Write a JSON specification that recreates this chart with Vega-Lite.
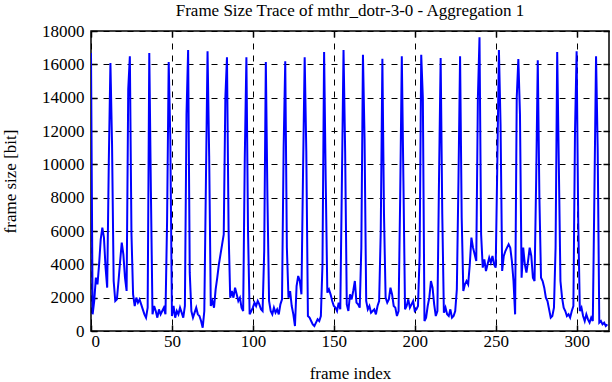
{
  "$schema": "https://vega.github.io/schema/vega-lite/v6.json",
  "width": 518,
  "height": 300,
  "autosize": {"type": "none"},
  "padding": {"left": 91, "top": 31, "right": 3, "bottom": 51},
  "background": "white",
  "config": {
    "font": "Liberation Serif",
    "view": {"stroke": "black", "strokeWidth": 1.5},
    "axis": {"labelFont": "Liberation Serif", "titleFont": "Liberation Serif", "labelFontSize": 17, "titleFontSize": 17, "labelColor": "black", "titleColor": "black", "titleFontWeight": "normal", "domain": false, "tickColor": "black", "tickWidth": 1.5, "tickSize": -6, "gridColor": "black", "gridDash": [6, 6], "gridWidth": 1, "gridOpacity": 1}
  },
  "title": {"text": "Frame Size Trace of mthr_dotr-3-0 - Aggregation 1", "font": "Liberation Serif", "fontSize": 17, "fontWeight": "normal", "color": "black", "offset": 2, "anchor": "middle"},
  "data": {"values": [
    {"f":0,"v":16680},{"f":1,"v":1000},{"f":2,"v":1800},{"f":3,"v":3200},{"f":4,"v":2800},{"f":5,"v":4000},{"f":6,"v":5500},{"f":7,"v":6200},{"f":8,"v":5600},{"f":9,"v":3800},
    {"f":10,"v":2600},{"f":11,"v":10200},{"f":12,"v":16080},{"f":13,"v":11200},{"f":14,"v":3000},{"f":15,"v":1800},{"f":16,"v":1900},{"f":17,"v":3000},{"f":18,"v":4200},{"f":19,"v":5300},
    {"f":20,"v":4600},{"f":21,"v":3200},{"f":22,"v":2400},{"f":23,"v":14500},{"f":24,"v":16480},{"f":25,"v":5800},{"f":26,"v":2200},{"f":27,"v":1500},{"f":28,"v":2000},{"f":29,"v":1700},
    {"f":30,"v":1900},{"f":31,"v":1600},{"f":32,"v":1300},{"f":33,"v":1000},{"f":34,"v":800},{"f":35,"v":1400},{"f":36,"v":16680},{"f":37,"v":8400},{"f":38,"v":1000},{"f":39,"v":1500},
    {"f":40,"v":1200},{"f":41,"v":800},{"f":42,"v":1300},{"f":43,"v":1000},{"f":44,"v":1200},{"f":45,"v":1400},{"f":46,"v":1000},{"f":47,"v":6600},{"f":48,"v":16140},{"f":49,"v":11500},
    {"f":50,"v":900},{"f":51,"v":1500},{"f":52,"v":800},{"f":53,"v":1200},{"f":54,"v":1000},{"f":55,"v":1400},{"f":56,"v":1100},{"f":57,"v":800},{"f":58,"v":1500},{"f":59,"v":13000},
    {"f":60,"v":16860},{"f":61,"v":3500},{"f":62,"v":1200},{"f":63,"v":800},{"f":64,"v":1100},{"f":65,"v":1400},{"f":66,"v":1000},{"f":67,"v":900},{"f":68,"v":600},{"f":69,"v":200},
    {"f":70,"v":1200},{"f":71,"v":9000},{"f":72,"v":16780},{"f":73,"v":10500},{"f":74,"v":1500},{"f":75,"v":1800},{"f":76,"v":1400},{"f":77,"v":2500},{"f":78,"v":3200},{"f":79,"v":4000},
    {"f":80,"v":4600},{"f":81,"v":5200},{"f":82,"v":5800},{"f":83,"v":14000},{"f":84,"v":16420},{"f":85,"v":6000},{"f":86,"v":2000},{"f":87,"v":2400},{"f":88,"v":2000},{"f":89,"v":2600},
    {"f":90,"v":2200},{"f":91,"v":1800},{"f":92,"v":2000},{"f":93,"v":1400},{"f":94,"v":1200},{"f":95,"v":10400},{"f":96,"v":16420},{"f":97,"v":6000},{"f":98,"v":1000},{"f":99,"v":1200},
    {"f":100,"v":1400},{"f":101,"v":1700},{"f":102,"v":1500},{"f":103,"v":1800},{"f":104,"v":1600},{"f":105,"v":1300},{"f":106,"v":1200},{"f":107,"v":4800},{"f":108,"v":16140},{"f":109,"v":8000},
    {"f":110,"v":1800},{"f":111,"v":1200},{"f":112,"v":1000},{"f":113,"v":1400},{"f":114,"v":1100},{"f":115,"v":1300},{"f":116,"v":1000},{"f":117,"v":1600},{"f":118,"v":1900},{"f":119,"v":11000},
    {"f":120,"v":16180},{"f":121,"v":5000},{"f":122,"v":2000},{"f":123,"v":2400},{"f":124,"v":1500},{"f":125,"v":1000},{"f":126,"v":300},{"f":127,"v":2700},{"f":128,"v":3300},{"f":129,"v":3000},
    {"f":130,"v":2200},{"f":131,"v":9600},{"f":132,"v":16420},{"f":133,"v":10800},{"f":134,"v":900},{"f":135,"v":800},{"f":136,"v":600},{"f":137,"v":400},{"f":138,"v":300},{"f":139,"v":500},
    {"f":140,"v":700},{"f":141,"v":600},{"f":142,"v":900},{"f":143,"v":4000},{"f":144,"v":16740},{"f":145,"v":9000},{"f":146,"v":2300},{"f":147,"v":2500},{"f":148,"v":2200},{"f":149,"v":1800},
    {"f":150,"v":1500},{"f":151,"v":1400},{"f":152,"v":1200},{"f":153,"v":1700},{"f":154,"v":1300},{"f":155,"v":9000},{"f":156,"v":16860},{"f":157,"v":10800},{"f":158,"v":1600},{"f":159,"v":1200},
    {"f":160,"v":2200},{"f":161,"v":1900},{"f":162,"v":2400},{"f":163,"v":3000},{"f":164,"v":1700},{"f":165,"v":1600},{"f":166,"v":1400},{"f":167,"v":5000},{"f":168,"v":16580},{"f":169,"v":11500},
    {"f":170,"v":1800},{"f":171,"v":1300},{"f":172,"v":1500},{"f":173,"v":1100},{"f":174,"v":1200},{"f":175,"v":1300},{"f":176,"v":1000},{"f":177,"v":1500},{"f":178,"v":1800},{"f":179,"v":6000},
    {"f":180,"v":16340},{"f":181,"v":7000},{"f":182,"v":2000},{"f":183,"v":1700},{"f":184,"v":1900},{"f":185,"v":2600},{"f":186,"v":2200},{"f":187,"v":1500},{"f":188,"v":1400},{"f":189,"v":900},
    {"f":190,"v":1200},{"f":191,"v":8000},{"f":192,"v":16480},{"f":193,"v":9000},{"f":194,"v":1300},{"f":195,"v":1500},{"f":196,"v":1900},{"f":197,"v":1400},{"f":198,"v":1600},{"f":199,"v":1800},
    {"f":200,"v":1200},{"f":201,"v":1300},{"f":202,"v":1500},{"f":203,"v":4500},{"f":204,"v":16580},{"f":205,"v":14000},{"f":206,"v":600},{"f":207,"v":800},{"f":208,"v":1500},{"f":209,"v":2000},
    {"f":210,"v":3000},{"f":211,"v":2600},{"f":212,"v":1600},{"f":213,"v":900},{"f":214,"v":1200},{"f":215,"v":9200},{"f":216,"v":16380},{"f":217,"v":7000},{"f":218,"v":1100},{"f":219,"v":1400},
    {"f":220,"v":1000},{"f":221,"v":900},{"f":222,"v":1300},{"f":223,"v":800},{"f":224,"v":900},{"f":225,"v":1200},{"f":226,"v":2500},{"f":227,"v":9000},{"f":228,"v":16480},{"f":229,"v":6800},
    {"f":230,"v":2400},{"f":231,"v":2800},{"f":232,"v":3000},{"f":233,"v":2800},{"f":234,"v":4000},{"f":235,"v":5600},{"f":236,"v":5000},{"f":237,"v":4600},{"f":238,"v":4200},{"f":239,"v":14000},
    {"f":240,"v":17620},{"f":241,"v":5800},{"f":242,"v":3800},{"f":243,"v":4300},{"f":244,"v":3600},{"f":245,"v":4000},{"f":246,"v":4400},{"f":247,"v":4100},{"f":248,"v":4500},{"f":249,"v":4000},
    {"f":250,"v":3800},{"f":251,"v":10000},{"f":252,"v":16860},{"f":253,"v":12400},{"f":254,"v":3600},{"f":255,"v":4500},{"f":256,"v":4800},{"f":257,"v":5000},{"f":258,"v":5200},{"f":259,"v":5000},
    {"f":260,"v":4200},{"f":261,"v":3000},{"f":262,"v":1000},{"f":263,"v":14000},{"f":264,"v":16320},{"f":265,"v":13000},{"f":266,"v":3200},{"f":267,"v":5000},{"f":268,"v":4000},{"f":269,"v":3500},
    {"f":270,"v":4200},{"f":271,"v":5000},{"f":272,"v":4500},{"f":273,"v":3200},{"f":274,"v":3000},{"f":275,"v":9000},{"f":276,"v":16240},{"f":277,"v":8000},{"f":278,"v":3200},{"f":279,"v":3000},
    {"f":280,"v":2600},{"f":281,"v":2000},{"f":282,"v":1800},{"f":283,"v":1300},{"f":284,"v":800},{"f":285,"v":900},{"f":286,"v":1400},{"f":287,"v":5000},{"f":288,"v":16740},{"f":289,"v":10000},
    {"f":290,"v":3000},{"f":291,"v":2000},{"f":292,"v":1400},{"f":293,"v":1200},{"f":294,"v":900},{"f":295,"v":1000},{"f":296,"v":800},{"f":297,"v":1200},{"f":298,"v":1500},{"f":299,"v":12000},
    {"f":300,"v":16780},{"f":301,"v":6500},{"f":302,"v":1200},{"f":303,"v":1400},{"f":304,"v":900},{"f":305,"v":600},{"f":306,"v":1000},{"f":307,"v":700},{"f":308,"v":500},{"f":309,"v":800},
    {"f":310,"v":600},{"f":311,"v":8400},{"f":312,"v":16480},{"f":313,"v":11000},{"f":314,"v":500},{"f":315,"v":600},{"f":316,"v":400},{"f":317,"v":500},{"f":318,"v":300},{"f":319,"v":400}
  ]},
  "layer": [
    {
      "mark": {"type": "line", "color": "#0000ff", "strokeWidth": 2, "clip": true},
      "encoding": {
        "x": {"field": "f", "type": "quantitative", "title": "frame index",
          "scale": {"domain": [0, 320], "nice": false, "zero": false},
          "axis": {"values": [0, 50, 100, 150, 200, 250, 300], "labelPadding": 8, "titlePadding": 16, "format": "d", "labelFont": "Liberation Serif", "labelFontSize": 17}},
        "y": {"field": "v", "type": "quantitative", "title": "frame size [bit]",
          "scale": {"domain": [0, 18000], "nice": false},
          "axis": {"values": [0, 2000, 4000, 6000, 8000, 10000, 12000, 14000, 16000, 18000], "labelPadding": 13, "titlePadding": 22, "format": "d", "labelFont": "Liberation Serif", "labelFontSize": 17}}
      }
    },
    {
      "mark": {"type": "line", "strokeOpacity": 0, "clip": true},
      "encoding": {
        "x": {"field": "f", "type": "quantitative",
          "axis": {"orient": "top", "values": [0, 50, 100, 150, 200, 250, 300], "labels": false, "grid": false, "title": null}},
        "y": {"field": "v", "type": "quantitative",
          "axis": {"orient": "right", "values": [0, 2000, 4000, 6000, 8000, 10000, 12000, 14000, 16000, 18000], "labels": false, "grid": false, "title": null}}
      }
    }
  ],
  "resolve": {"axis": {"x": "independent", "y": "independent"}}
}
